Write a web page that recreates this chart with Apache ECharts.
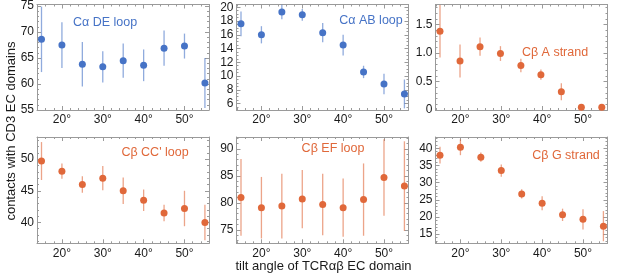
<!DOCTYPE html>
<html>
<head>
<meta charset="utf-8">
<script src="https://cdn.jsdelivr.net/npm/echarts@6/dist/echarts.min.js"></script>
<style>
  html, body { margin: 0; padding: 0; background: #fff; }
  #main { width: 617px; height: 277px; }
</style>
</head>
<body>
<div id="main"></div>
<script>
// tilt angles (deg)
var angles = [15, 20, 25, 30, 35, 40, 45, 50, 55];
var anglesA = [15, 19.9, 24.8, 29.8, 34.8, 39.7, 44.7, 49.6, 54.6];
var xTickValues = [20, 30, 40, 50];

// mean contacts and error (+/-)
var deLoop = [68.6, 67.5, 63.8, 63.3, 64.5, 63.6, 66.9, 67.3, 60.2];
var deLoopErr = [6.3, 4.4, 4.3, 3.0, 3.3, 3.05, 3.4, 2.4, 4.8];
var abLoop = [17.6, 16.0, 19.3, 18.9, 16.3, 14.5, 10.6, 8.85, 7.4];
var abLoopErr = [1.8, 1.25, 1.05, 0.85, 1.4, 1.5, 0.9, 1.5, 2.1];
var aStrand = [1.38, 0.86, 1.11, 0.99, 0.78, 0.62, 0.32, 0.05, 0.05];
var aStrandErr = [0.46, 0.29, 0.16, 0.13, 0.12, 0.09, 0.15, 0.02, 0.02];
var ccLoop = [49.7, 48.1, 46.0, 47.0, 45.0, 43.5, 41.5, 42.2, 40.0];
var ccLoopErr = [3.0, 1.2, 1.3, 1.9, 2.1, 1.7, 1.3, 2.8, 2.8];
var efLoop = [81.0, 79.1, 79.4, 80.7, 79.7, 79.1, 80.6, 84.7, 83.1];
var efLoopErr = [7.1, 5.7, 6.0, 5.4, 5.7, 5.4, 6.7, 7.1, 8.3];
var gStrand = [38.0, 40.3, 37.4, 33.5, 26.7, 24.0, 20.6, 19.3, 17.3];
var gStrandErr = [2.45, 2.3, 1.35, 1.8, 1.35, 2.05, 1.8, 2.95, 4.4];

// y tick labels per panel
var deTicks = [55, 60, 65, 70, 75];
var abTicks = [6, 8, 10, 12, 14, 16, 18, 20];
var aTicks = [0, 0.5, 1, 1.5];
var ccTicks = [40, 45, 50];
var efTicks = [75, 80, 85, 90];
var gTicks = [15, 20, 25, 30, 35, 40];

var blue = "#4673c6", orange = "#e0683a";
var blueBar = "rgba(70,115,198,0.6)", orangeBar = "rgba(224,104,58,0.6)";
var frame = "#9a9a9a";

var panels = [
  { name: "Cα DE loop", x: angles, y: deLoop, err: deLoopErr, c: blue, bar: blueBar,
    left: 37, top: 4.5, h: 105.5, yMin: 55, yMax: 75.3, yTicks: deTicks, yMinor: 1, tx: 105, ty: 23 },
  { name: "Cα AB loop", x: angles, y: abLoop, err: abLoopErr, c: blue, bar: blueBar,
    left: 236.5, top: 4.5, h: 105.5, yMin: 5.07, yMax: 20.4, yTicks: abTicks, yMinor: 0.5, tx: 371, ty: 21 },
  { name: "Cβ A strand", x: anglesA, y: aStrand, err: aStrandErr, c: orange, bar: orangeBar,
    left: 435.5, top: 4.5, h: 105.5, yMin: 0, yMax: 1.85, yTicks: aTicks, yMinor: 0.1, tx: 555, ty: 53,
    fmt: function (v) { return v === 0 ? "0" : v.toFixed(1); } },
  { name: "Cβ CC' loop", x: angles, y: ccLoop, err: ccLoopErr, c: orange, bar: orangeBar,
    left: 37, top: 137, h: 106.3, yMin: 36.7, yMax: 53.5, yTicks: ccTicks, yMinor: 1, tx: 155, ty: 153 },
  { name: "Cβ EF loop", x: angles, y: efLoop, err: efLoopErr, c: orange, bar: orangeBar,
    left: 236.5, top: 137, h: 106.3, yMin: 72.5, yMax: 92.2, yTicks: efTicks, yMinor: 1, tx: 333, ty: 149 },
  { name: "Cβ G strand", x: angles, y: gStrand, err: gStrandErr, c: orange, bar: orangeBar,
    left: 435.5, top: 137, h: 106.3, yMin: 12.3, yMax: 43.3, yTicks: gTicks, yMinor: 1, tx: 566, ty: 156 }
];

var X_MIN = 13.9, X_MAX = 56;

function minorList(min, max, step, majors) {
  var out = [];
  for (var v = Math.ceil(min / step - 1e-9) * step; v <= max + 1e-9; v += step) {
    var r = Math.round(v * 1000) / 1000;
    if (majors.indexOf(r) < 0) out.push(r);
  }
  return out;
}

function makeAxis(kind, gi, pos, min, max, values, len, showLine, label, fmt) {
  var ax = {
    type: "value", gridIndex: gi, position: pos, min: min, max: max,
    axisLine: { show: showLine, onZero: false, lineStyle: { color: frame, width: 1 } },
    axisTick: { show: true, inside: true, length: len, customValues: values,
                lineStyle: { color: frame, width: 1 } },
    axisLabel: { show: label, customValues: values, margin: kind === "x" ? 4 : 3,
                 color: "#1a1a1a", fontSize: 12, fontFamily: "Liberation Sans, Arial",
                 formatter: fmt },
    splitLine: { show: false }
  };
  return ax;
}

var grids = [], xAxes = [], yAxes = [], series = [], graphics = [];
var xMinor = minorList(X_MIN, X_MAX, 2, xTickValues);

panels.forEach(function (p, i) {
  grids.push({ left: p.left, top: p.top, width: 172, height: p.h });
  var degFmt = function (v) { return v + "°"; };
  xAxes.push(makeAxis("x", i, "bottom", X_MIN, X_MAX, xTickValues, 4, true, true, degFmt));
  xAxes.push(makeAxis("x", i, "bottom", X_MIN, X_MAX, xMinor, 2, false, false));
  xAxes.push(makeAxis("x", i, "top", X_MIN, X_MAX, xTickValues, 4, true, false));
  xAxes.push(makeAxis("x", i, "top", X_MIN, X_MAX, xMinor, 2, false, false));
  var yMinorVals = minorList(p.yMin, p.yMax, p.yMinor, p.yTicks);
  yAxes.push(makeAxis("y", i, "left", p.yMin, p.yMax, p.yTicks, 4, true, true, p.fmt));
  yAxes.push(makeAxis("y", i, "left", p.yMin, p.yMax, yMinorVals, 2, false, false));
  yAxes.push(makeAxis("y", i, "right", p.yMin, p.yMax, p.yTicks, 4, true, false));
  yAxes.push(makeAxis("y", i, "right", p.yMin, p.yMax, yMinorVals, 2, false, false));

  var barData = p.x.map(function (x, k) { return [x, p.y[k] - p.err[k], p.y[k] + p.err[k]]; });
  var ptData = p.x.map(function (x, k) { return [x, p.y[k]]; });

  series.push({
    type: "custom", xAxisIndex: i * 4, yAxisIndex: i * 4, data: barData, silent: true,
    renderItem: (function (col) {
      return function (params, api) {
        var a = api.coord([api.value(0), api.value(1)]);
        var b = api.coord([api.value(0), api.value(2)]);
        var cs = params.coordSys;
        var lo = Math.min(Math.max(a[1], cs.y), cs.y + cs.height);
        var hi = Math.min(Math.max(b[1], cs.y), cs.y + cs.height);
        return { type: "line", shape: { x1: a[0], y1: lo, x2: b[0], y2: hi },
                 style: { stroke: col, lineWidth: 1.3 } };
      };
    })(p.bar)
  });
  series.push({
    type: "scatter", xAxisIndex: i * 4, yAxisIndex: i * 4, data: ptData,
    symbolSize: 7, itemStyle: { color: p.c, opacity: 1 }, z: 3
  });

  graphics.push({
    type: "text", x: p.tx, y: p.ty,
    style: { text: p.name, fill: p.c, fontSize: 12.5, fontFamily: "Liberation Sans, Arial",
             align: "center", verticalAlign: "middle" }
  });
});

graphics.push({
  type: "text", x: 11, y: 131, rotation: Math.PI / 2,
  style: { text: "contacts with CD3 EC domains", fill: "#1a1a1a", fontSize: 13,
           fontFamily: "Liberation Sans, Arial", align: "center", verticalAlign: "middle" }
});
graphics.push({
  type: "text", x: 323.5, y: 266.5,
  style: { text: "tilt angle of TCRαβ EC domain", fill: "#1a1a1a", fontSize: 13,
           fontFamily: "Liberation Sans, Arial", align: "center", verticalAlign: "middle" }
});

var chart = echarts.init(document.getElementById("main"));
chart.setOption({
  animation: false,
  grid: grids,
  xAxis: xAxes,
  yAxis: yAxes,
  series: series,
  graphic: graphics
});
</script>
</body>
</html>
